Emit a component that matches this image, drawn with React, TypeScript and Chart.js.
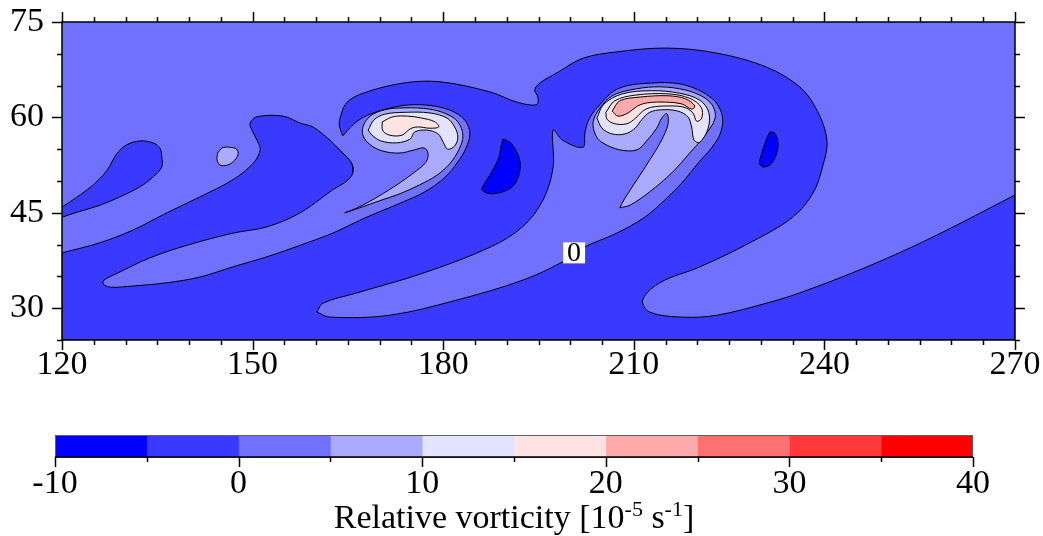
import React, { useEffect, useRef } from 'react';
import { Chart, registerables } from 'chart.js';

Chart.register(...registerables);

type Pt = [number, number];

const FONT = "'Liberation Serif', 'Times New Roman', Times, serif";

// ---- axes ----
const lonTicks = [120, 150, 180, 210, 240, 270];
const latTicks = [30, 45, 60, 75];
const lonRange: [number, number] = [120, 270];
const latRange: [number, number] = [25, 75];
const minorTickStep = 5;

// ---- colour levels ----
const levels = [-10, -5, 0, 5, 10, 15, 20, 25, 30, 35, 40];
const levelColors = ['#0000ff', '#3939ff', '#7171ff', '#aaaaff', '#e3e3ff', '#ffe3e3', '#ffaaaa', '#ff7171', '#ff3939', '#ff0000'];
const colorbarTicks = [-10, 0, 10, 20, 30, 40];
const colorbarTitleParts = [
  { text: 'Relative vorticity [10', sup: false },
  { text: '-5', sup: true },
  { text: ' s', sup: false },
  { text: '-1', sup: true },
  { text: ']', sup: false },
];

// ---- contour regions (lon, lat) ----
const negMain: Pt[] = [
  [164.2, 57.1], [163.7, 58.5], [163.7, 59.6], [164.8, 62.3], [167.4, 63.8], [173.7, 65.4], [179.5, 65.6],
  [187.4, 64.0], [191.6, 62.4], [194.7, 62.0], [194.9, 63.2], [194.4, 64.3], [195.2, 65.4], [197.9, 67.0],
  [202.0, 69.3], [207.3, 70.3], [215.2, 70.9], [223.1, 70.1], [230.9, 67.9], [236.1, 64.8], [238.8, 61.2],
  [240.4, 56.4], [239.7, 52.2], [238.2, 48.1], [235.0, 44.3], [228.3, 40.3], [220.4, 36.5], [214.1, 34.0],
  [211.4, 31.3], [212.5, 29.4], [217.7, 28.6], [223.1, 28.9], [230.9, 30.8], [236.1, 32.4], [246.7, 36.5],
  [257.1, 41.2], [270, 47.8], [270, 25], [120, 25], [120, 38.7], [126.0, 40.3], [131.2, 42.3], [136.5, 45.0],
  [141.7, 47.5], [146.9, 50.2], [150.1, 52.8], [151.2, 54.9], [150.7, 56.4], [149.9, 58.0], [149.6, 59.1],
  [150.7, 60.1], [154.8, 60.2], [157.5, 59.1], [159.5, 58.5], [162.2, 56.4], [164.2, 54.4], [165.6, 52.8],
  [165.8, 51.3],
];
const negTongueWest: Pt[] = [
  [120, 45.9], [122.4, 47.5], [124.9, 49.4], [127.1, 51.7], [128.7, 54.4], [130.2, 55.7], [132.3, 56.3],
  [134.3, 56.0], [135.4, 55.2], [135.7, 53.8], [135.7, 52.2], [134.3, 50.6], [132.3, 49.1], [129.1, 47.5],
  [126.0, 46.2], [122.4, 45.1], [120, 44.3],
];
const zeroBandWest: Pt[] = [
  [164.2, 57.1], [165.3, 58.3], [166.9, 59.7], [169.3, 60.8], [173.2, 61.8], [176.3, 62.0], [179.5, 61.6],
  [182.0, 60.7], [183.6, 59.3], [184.2, 57.4], [183.6, 55.2], [182.3, 53.0], [180.3, 50.6], [177.1, 48.3],
  [173.2, 46.5], [167.7, 44.2], [162.6, 41.8], [157.5, 39.9], [152.3, 38.1], [146.9, 36.5], [141.7, 34.9],
  [136.5, 34.0], [131.2, 33.5], [127.6, 33.3], [126.5, 33.8], [126.6, 34.4], [128.7, 35.5], [133.8, 37.9],
  [139.7, 39.9], [146.9, 41.8], [152.3, 42.8], [157.5, 45.0], [162.6, 48.6], [164.8, 50.0], [165.8, 51.3],
  [165.6, 52.8], [164.2, 54.4], [162.6, 56.0],
];
const zeroBandEast: Pt[] = [
  [160.1, 29.4], [161.1, 30.8], [166.4, 32.4], [176.8, 35.5], [187.4, 39.6], [192.5, 42.8], [195.7, 47.0],
  [197.3, 52.2], [197.3, 58.0], [198.8, 56.4], [202.0, 55.3], [202.3, 57.5], [202.9, 59.6], [204.3, 61.6],
  [207.5, 64.5], [212.8, 65.4], [218.0, 65.1], [222.3, 63.0], [223.9, 60.4], [223.7, 57.7], [222.3, 55.3],
  [220.1, 52.8], [218.0, 50.2], [215.4, 47.5], [211.7, 44.3], [207.3, 41.8], [202.0, 39.5], [198.8, 37.3],
  [192.5, 34.4], [182.2, 31.3], [171.6, 28.9], [162.2, 28.6],
];
const fiveBlobWest: Pt[] = [
  [144.5, 54.4], [145.2, 55.2], [146.4, 55.3], [147.5, 55.0], [147.7, 54.1], [146.9, 53.0], [146.0, 52.5],
  [144.9, 52.5], [144.4, 53.3],
];
const vortexW5: Pt[] = [
  [164.5, 45.0], [166.9, 45.8], [170.0, 46.9], [173.2, 48.0], [176.3, 49.4], [179.0, 50.9], [181.1, 52.8],
  [182.5, 55.0], [183.1, 57.2], [182.3, 59.3], [180.6, 60.5], [177.9, 61.3], [174.0, 61.5], [170.8, 61.2],
  [168.5, 60.2], [167.4, 58.6], [167.4, 57.1], [168.5, 55.7], [170.5, 54.7], [173.2, 54.4], [175.5, 54.9],
  [177.0, 55.2], [177.6, 54.4], [177.3, 53.0], [175.5, 51.4], [172.4, 49.2], [168.8, 47.0], [166.1, 45.6],
];
const vortexW10: Pt[] = [
  [168.2, 58.0], [169.1, 59.6], [170.8, 60.5], [174.0, 60.8], [177.9, 60.7], [180.6, 59.9], [181.8, 58.5],
  [182.3, 56.9], [181.8, 55.5], [180.7, 55.0], [180.0, 56.1], [179.2, 57.4], [177.4, 58.0], [175.5, 57.7],
  [174.8, 56.6], [172.7, 56.0], [170.2, 56.3], [168.8, 57.2],
];
const vortexW15: Pt[] = [
  [170.4, 59.3], [172.1, 60.1], [174.4, 60.2], [176.6, 59.9], [178.7, 59.3], [179.3, 58.5], [177.9, 58.3],
  [176.0, 58.5], [174.8, 58.2], [173.5, 57.2], [171.6, 57.2], [170.5, 57.9],
];
const vortexE5: Pt[] = [
  [207.8, 45.8], [209.4, 46.2], [212.5, 48.3], [216.0, 51.3], [218.8, 54.4], [221.2, 57.2], [222.8, 59.9],
  [222.3, 62.0], [220.4, 63.5], [217.2, 64.5], [213.3, 64.8], [209.4, 64.3], [206.6, 63.4], [204.7, 61.5],
  [203.6, 59.3], [204.0, 57.2], [205.1, 56.0], [207.8, 54.9], [210.5, 54.9], [212.1, 56.4], [213.6, 58.3],
  [214.4, 59.9], [215.2, 60.6], [215.4, 59.0], [214.3, 56.3], [212.5, 53.3], [210.5, 50.2], [208.6, 47.3],
];
const vortexE10: Pt[] = [
  [204.2, 59.9], [205.3, 62.1], [208.2, 63.7], [212.8, 64.2], [217.2, 63.8], [220.4, 62.7], [221.8, 60.8],
  [221.7, 58.3], [220.4, 56.1], [219.5, 56.4], [219.1, 58.5], [218.5, 60.1], [216.9, 61.0], [214.4, 61.2],
  [212.5, 60.8], [211.3, 59.7], [210.2, 58.3], [208.6, 57.4], [206.6, 57.4], [205.0, 58.3],
];
const vortexE15: Pt[] = [
  [205.6, 60.8], [207.0, 62.6], [210.2, 63.5], [215.4, 63.7], [218.8, 63.0], [220.6, 61.6], [220.7, 59.9],
  [219.9, 59.4], [219.3, 60.7], [217.9, 61.6], [215.4, 61.8], [212.8, 61.6], [211.4, 61.0], [210.3, 59.9],
  [208.9, 59.0], [207.0, 59.0], [205.8, 59.7],
];
const vortexE20: Pt[] = [
  [206.6, 61.0], [207.8, 62.6], [211.0, 63.2], [215.4, 63.4], [218.2, 62.9], [219.6, 61.8], [219.1, 61.3],
  [217.6, 62.1], [215.0, 62.4], [212.2, 62.3], [210.6, 61.8], [209.1, 60.7], [207.5, 60.2],
];
const minBlobWest: Pt[] = [
  [189.4, 56.6], [190.5, 56.1], [191.4, 54.9], [192.1, 53.0], [191.9, 50.9], [191.0, 49.2], [189.4, 48.3],
  [187.4, 48.0], [186.1, 48.6], [186.6, 49.8], [187.8, 51.7], [188.8, 53.8], [189.1, 55.5],
];
const minBlobEast: Pt[] = [
  [231.4, 57.7], [232.2, 57.5], [232.7, 56.0], [232.5, 54.4], [231.7, 52.8], [230.5, 52.2], [229.8, 52.7],
  [230.3, 54.9], [230.9, 56.6],
];

const contourLabels = [{ text: '0', lon: 200.6, lat: 38.7 }];

// layer order: bottom -> top ; band = index into levelColors
const regions: { pts: Pt[]; band: number; closed: boolean }[] = [
  { pts: negMain, band: 1, closed: false },
  { pts: negTongueWest, band: 1, closed: false },
  { pts: zeroBandWest, band: 2, closed: false },
  { pts: zeroBandEast, band: 2, closed: true },
  { pts: fiveBlobWest, band: 3, closed: true },
  { pts: vortexW5, band: 3, closed: true },
  { pts: vortexW10, band: 4, closed: true },
  { pts: vortexW15, band: 5, closed: true },
  { pts: vortexE5, band: 3, closed: true },
  { pts: vortexE10, band: 4, closed: true },
  { pts: vortexE15, band: 5, closed: true },
  { pts: vortexE20, band: 6, closed: true },
  { pts: minBlobWest, band: 0, closed: true },
  { pts: minBlobEast, band: 0, closed: true },
];

// points lying on the plot frame are doubled so the smoothed outline keeps sharp corners there
function toPoints(pts: Pt[], closed: boolean) {
  const out: { x: number; y: number }[] = [];
  const onFrame = (p: Pt) =>
    p[0] === lonRange[0] || p[0] === lonRange[1] || p[1] === latRange[0] || p[1] === latRange[1];
  pts.forEach((p) => {
    out.push({ x: p[0], y: p[1] });
    if (onFrame(p)) out.push({ x: p[0], y: p[1] });
  });
  if (closed) out.push({ x: pts[0][0], y: pts[0][1] });
  return out;
}

const mainDecor = {
  id: 'mainDecor',
  beforeDatasetsDraw(chart: any) {
    const { ctx, chartArea: a } = chart;
    ctx.save();
    ctx.fillStyle = levelColors[2];
    ctx.fillRect(a.left, a.top, a.right - a.left, a.bottom - a.top);
    ctx.restore();
  },
  afterDatasetsDraw(chart: any) {
    const { ctx, chartArea: a, scales } = chart;
    const sx = scales.x;
    const sy = scales.y;
    ctx.save();
    ctx.font = `28px ${FONT}`;
    ctx.textAlign = 'center';
    ctx.textBaseline = 'middle';
    for (const lb of contourLabels) {
      const px = sx.getPixelForValue(lb.lon);
      const py = sy.getPixelForValue(lb.lat);
      const w = ctx.measureText(lb.text).width + 8;
      ctx.fillStyle = '#fff';
      ctx.fillRect(px - w / 2, py - 10.5, w, 21);
      ctx.fillStyle = '#000';
      ctx.fillText(lb.text, px, py + 1);
    }
    ctx.strokeStyle = '#000';
    ctx.lineWidth = 1.5;
    ctx.strokeRect(a.left, a.top, a.right - a.left, a.bottom - a.top);
    ctx.beginPath();
    for (let v = lonRange[0]; v <= lonRange[1]; v += minorTickStep) {
      const px = Math.round(sx.getPixelForValue(v)) + 0.5;
      const len = lonTicks.includes(v) ? 10 : 5;
      ctx.moveTo(px, a.bottom);
      ctx.lineTo(px, a.bottom + len);
      ctx.moveTo(px, a.top);
      ctx.lineTo(px, a.top - len);
    }
    for (let v = latRange[0]; v <= latRange[1]; v += minorTickStep) {
      const py = Math.round(sy.getPixelForValue(v)) + 0.5;
      const len = latTicks.includes(v) ? 10 : 5;
      ctx.moveTo(a.left, py);
      ctx.lineTo(a.left - len, py);
      ctx.moveTo(a.right, py);
      ctx.lineTo(a.right + len, py);
    }
    ctx.stroke();
    ctx.restore();
  },
};

const colorbarDecor = {
  id: 'colorbarDecor',
  afterDatasetsDraw(chart: any) {
    const { ctx, chartArea: a, scales } = chart;
    const sx = scales.x;
    ctx.save();
    ctx.strokeStyle = '#606060';
    ctx.lineWidth = 1;
    ctx.strokeRect(a.left + 0.5, a.top + 0.5, a.right - a.left - 1, a.bottom - a.top);
    ctx.strokeStyle = '#000';
    ctx.lineWidth = 1.5;
    ctx.beginPath();
    ctx.moveTo(a.left, a.bottom);
    ctx.lineTo(a.right, a.bottom);
    for (let v = levels[0]; v <= levels[levels.length - 1]; v += 5) {
      const px = Math.round(sx.getPixelForValue(v)) + 0.5;
      const len = colorbarTicks.includes(v) ? 10 : 5;
      ctx.moveTo(px, a.bottom);
      ctx.lineTo(px, a.bottom + len);
    }
    ctx.stroke();

    // title with superscripts
    const mainFont = `34px ${FONT}`;
    const supFont = `22px ${FONT}`;
    let total = 0;
    const widths = colorbarTitleParts.map((p) => {
      ctx.font = p.sup ? supFont : mainFont;
      const w = ctx.measureText(p.text).width;
      total += w;
      return w;
    });
    let x = (a.left + a.right) / 2 - total / 2;
    const base = 128;
    ctx.fillStyle = '#000';
    ctx.textAlign = 'left';
    ctx.textBaseline = 'alphabetic';
    colorbarTitleParts.forEach((p, i) => {
      ctx.font = p.sup ? supFont : mainFont;
      ctx.fillText(p.text, x, p.sup ? base - 12 : base);
      x += widths[i];
    });
    ctx.restore();
  },
};

const zeroPadX = (s: any, h: number) => {
  s.height = h;
  s.paddingLeft = 0;
  s.paddingRight = 0;
};

export default function App() {
  const mainRef = useRef<HTMLCanvasElement>(null);
  const barRef = useRef<HTMLCanvasElement>(null);

  useEffect(() => {
    const datasets = regions.map((r, i) => ({
      data: toPoints(r.pts, r.closed),
      backgroundColor: levelColors[r.band],
      borderColor: '#000',
      borderWidth: 1,
      borderJoinStyle: 'round' as const,
      fill: 'shape' as any,
      pointRadius: 0,
      tension: 0.35,
      order: regions.length - i,
    }));

    const tickFont = { family: FONT, size: 34 };

    const main = new Chart(mainRef.current as HTMLCanvasElement, {
      type: 'line',
      data: { datasets: datasets as any },
      options: {
        responsive: false,
        animation: false,
        devicePixelRatio: 1,
        events: [],
        layout: { padding: { top: 22, right: 28, left: 0, bottom: 0 } },
        plugins: { legend: { display: false }, tooltip: { enabled: false } },
        scales: {
          x: {
            type: 'linear',
            min: lonRange[0],
            max: lonRange[1],
            grid: { display: false, drawTicks: false },
            border: { display: false },
            afterBuildTicks: (s: any) => {
              s.ticks = lonTicks.map((v) => ({ value: v }));
            },
            afterFit: (s: any) => zeroPadX(s, 60),
            ticks: { autoSkip: false, maxRotation: 0, padding: 5, color: '#000', font: tickFont, callback: (v: any) => String(v) },
          },
          y: {
            type: 'linear',
            min: latRange[0],
            max: latRange[1],
            grid: { display: false, drawTicks: false },
            border: { display: false },
            afterBuildTicks: (s: any) => {
              s.ticks = latTicks.map((v) => ({ value: v }));
            },
            afterFit: (s: any) => {
              s.width = 62;
              s.paddingTop = 0;
              s.paddingBottom = 0;
            },
            ticks: { autoSkip: false, padding: 18, color: '#000', font: tickFont, callback: (v: any) => String(v) },
          },
        },
      } as any,
      plugins: [mainDecor],
    });

    const bar = new Chart(barRef.current as HTMLCanvasElement, {
      type: 'bar',
      data: {
        labels: [''],
        datasets: levelColors.map((c, i) => ({
          data: [[levels[i], levels[i + 1]]],
          backgroundColor: c,
          borderWidth: 0,
          barPercentage: 1,
          categoryPercentage: 1,
          grouped: false,
        })) as any,
      },
      options: {
        indexAxis: 'y',
        responsive: false,
        animation: false,
        devicePixelRatio: 1,
        events: [],
        layout: { padding: { left: 55, right: 70, top: 35, bottom: 0 } },
        plugins: { legend: { display: false }, tooltip: { enabled: false } },
        scales: {
          x: {
            type: 'linear',
            min: levels[0],
            max: levels[levels.length - 1],
            grid: { display: false, drawTicks: false },
            border: { display: false },
            afterBuildTicks: (s: any) => {
              s.ticks = colorbarTicks.map((v) => ({ value: v }));
            },
            afterFit: (s: any) => zeroPadX(s, 79),
            ticks: { autoSkip: false, maxRotation: 0, padding: 7, color: '#000', font: tickFont, callback: (v: any) => String(v) },
          },
          y: { display: false },
        },
      } as any,
      plugins: [colorbarDecor],
    });

    return () => {
      main.destroy();
      bar.destroy();
    };
  }, []);

  return (
    <div style={{ position: 'absolute', left: 0, top: 0, width: 1043, height: 536, background: '#fff' }}>
      <canvas ref={mainRef} width={1043} height={400} style={{ position: 'absolute', left: 0, top: 0 }} />
      <canvas ref={barRef} width={1043} height={136} style={{ position: 'absolute', left: 0, top: 400 }} />
    </div>
  );
}
